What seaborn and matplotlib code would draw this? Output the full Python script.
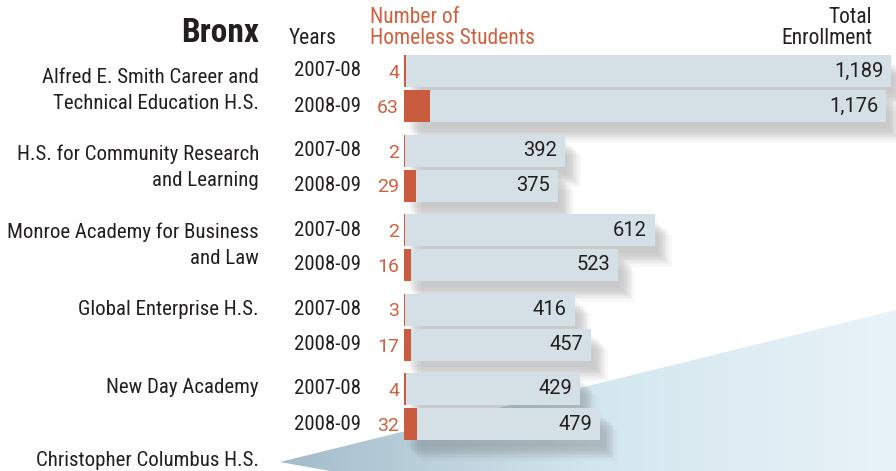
import numpy as np
import pandas as pd
import matplotlib
matplotlib.use("Agg")
import matplotlib.pyplot as plt
import matplotlib.patheffects as pe
from matplotlib import font_manager
from matplotlib.patches import Polygon
from matplotlib.transforms import blended_transform_factory
import seaborn as sns

# --------------------------
# data read off the graphic
# --------------------------
schools = [
    "Alfred E. Smith Career and\nTechnical Education H.S.",
    "H.S. for Community Research\nand Learning",
    "Monroe Academy for Business\nand Law",
    "Global Enterprise H.S.",
    "New Day Academy",
]
next_school = "Christopher Columbus H.S."
years = ["2007-08", "2008-09"]
enroll_0708 = [1189, 392, 612, 416, 429]
enroll_0809 = [1176, 375, 523, 457, 479]
homeless_0708 = [4, 2, 2, 3, 4]
homeless_0809 = [63, 29, 16, 17, 32]

BLUE = "#d5e0e6"
RED = "#c95b3f"
RED_TXT = "#d0603f"
INK = "#231f20"

sns.set_theme(style="white")
installed = {f.name for f in font_manager.fontManager.ttflist}
narrow = [f for f in ["Liberation Sans Narrow", "Roboto Condensed", "DejaVu Sans Condensed",
                      "Noto Sans Condensed", "Open Sans Condensed"] if f in installed]
plt.rcParams["font.family"] = narrow + ["Liberation Sans", "DejaVu Sans"]
NUMFONT = ["Roboto", "DejaVu Sans"]
# shrink the label text a bit when no condensed face is around
LBL = 15 if narrow else 12.6

# long table, one row per school/year; vertical layout in pixel-like units
rows = []
for i, s in enumerate(schools):
    for j, yr in enumerate(years):
        rows.append({
            "school": s, "year": yr,
            "enroll": (enroll_0708, enroll_0809)[j][i],
            "homeless": (homeless_0708, homeless_0809)[j][i],
            "ypos": 71 + i * 79.5 + j * 35,
        })
df = pd.DataFrame(rows)

W, H = 896, 471
fig = plt.figure(figsize=(W / 100, H / 100), dpi=100)
fig.patch.set_facecolor("white")

# decorative wedge in the background
bg = fig.add_axes([0, 0, 1, 1], zorder=0)
bg.set_xlim(0, W)
bg.set_ylim(H, 0)
bg.axis("off")
grad = np.linspace(0, 1, 256)[None, :]
cmap = matplotlib.colors.LinearSegmentedColormap.from_list("wedge", ["#a3bcc9", "#d3e6ee", "#e9f3f8"])
img = bg.imshow(grad, cmap=cmap, extent=[280, W, H, 300], aspect="auto")
wedge = Polygon([[280, 462], [W, 310], [W, H], [330, H]], closed=True, transform=bg.transData)
img.set_clip_path(wedge)

# bars
x0 = 404
ax = fig.add_axes([x0 / W, 0, (W - x0) / W, 1], zorder=1)
ax.patch.set_alpha(0)
n0 = len(ax.patches)
sns.barplot(data=df, x="enroll", y="ypos", orient="y", native_scale=True,
            color=BLUE, saturation=1, width=32 / 35, errorbar=None, linewidth=0, ax=ax)
shadow = [pe.SimplePatchShadow(offset=(o, -o - 3), shadow_rgbFace="#666666", alpha=0.045)
          for o in (2, 4, 5, 6, 7, 8, 9, 10, 12)] + [pe.Normal()]
for p in ax.patches[n0:]:
    p.set_path_effects(shadow)
sns.barplot(data=df, x="homeless", y="ypos", orient="y", native_scale=True,
            color=RED, saturation=1, width=32 / 35, errorbar=None, linewidth=0, ax=ax)
ax.set_xlim(0, (W - x0) / 0.41)
ax.set_ylim(H, 0)
ax.axis("off")

figx = blended_transform_factory(fig.transFigure, ax.transData)

for _, r in df.iterrows():
    ax.annotate(f"{r.enroll:,}", (r.enroll, r.ypos), xytext=(-8 * 0.72, 0),
                textcoords="offset points", ha="right", va="center",
                fontsize=14.5, color=INK, family=NUMFONT)
    ax.text(399 / W, r.ypos + 2, str(r.homeless), transform=figx, ha="right",
            va="center", fontsize=14, color=RED_TXT, family=NUMFONT)
    ax.text(361 / W, r.ypos, r.year, transform=figx, ha="right", va="center",
            fontsize=LBL, color=INK)

# school names sit on a slightly tighter rhythm than the bars
for i, s in enumerate(schools):
    n = s.count("\n")
    ax.text(259 / W, 83.5 + i * 77.3 + n * 25.5, s, transform=figx, ha="right",
            va="baseline", fontsize=LBL, color=INK, linespacing=1.46)
ax.text(259 / W, 466, next_school, transform=figx,
        ha="right", va="baseline", fontsize=LBL, color=INK)

# headers
fig.text(259 / W, 1 - 33 / H, "Bronx", ha="right", va="center",
         fontsize=24, fontweight="bold", color=INK)
fig.text(337 / W, 1 - 39 / H, "Years", ha="right", va="center", fontsize=LBL + 0.5, color=INK)
fig.text(370 / W, 1 - 28 / H, "Number of\nHomeless Students", ha="left", va="center",
         fontsize=LBL + 0.5, color=RED_TXT, linespacing=1.0)
fig.text(872 / W, 1 - 28 / H, "Total\nEnrollment", ha="right", va="center",
         fontsize=LBL + 0.5, color=INK, linespacing=1.0, multialignment="right")

fig.savefig("out.png", dpi=100)
